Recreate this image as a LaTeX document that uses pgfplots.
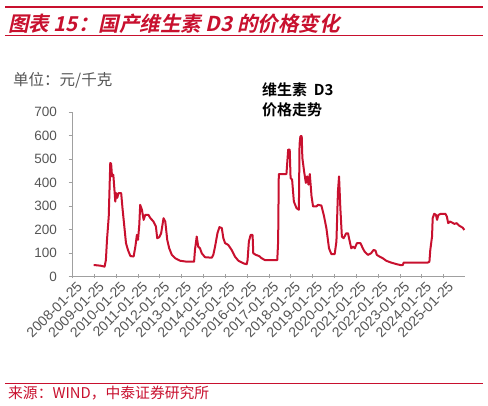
\documentclass[border=0pt]{standalone}
\usepackage{pgfplots}
\pgfplotsset{compat=1.18}
\usepackage{fontspec}
\setmainfont{Liberation Sans}
\newfontfamily\cjk{Noto Sans CJK SC}
\newfontfamily\cjkb{Noto Sans CJK SC Bold}
\newfontfamily\cjkt{Noto Sans CJK SC Bold}[FakeSlant=0.22]

\definecolor{zred}{RGB}{200,16,46}
\definecolor{tick}{RGB}{85,85,85}
\definecolor{axgray}{RGB}{160,160,160}

\begin{document}
\begin{tikzpicture}
\path[use as bounding box] (0pt,0pt) rectangle (488pt,406pt);

% header and footer
\draw[zred, line width=2.5pt] (5pt,399pt) -- (483pt,399pt);
\node[anchor=west, inner sep=0pt, text=zred] at (8pt,382.5pt)
  {\cjkt\fontsize{20.5}{21}\selectfont 图表 15：国产维生素 D3 的价格变化};
\draw[zred, line width=1pt] (5pt,370pt) -- (483pt,370pt);
\node[anchor=west, inner sep=0pt, text=tick] at (13pt,326pt)
  {\cjk\fontsize{15.5}{16}\selectfont 单位：元/千克};
\node[anchor=west, inner sep=0pt] at (262pt,316.5pt)
  {\cjkb\fontsize{15}{15}\selectfont 维生素 \ D3};
\node[anchor=west, inner sep=0pt] at (262pt,296pt)
  {\cjkb\fontsize{15}{15}\selectfont 价格走势};
\draw[zred, line width=0.8pt] (5pt,22.7pt) -- (483pt,22.7pt);
\node[anchor=west, inner sep=0pt, text=zred] at (8pt,13pt)
  {\cjk\fontsize{14.8}{15}\selectfont 来源：WIND，中泰证券研究所};

\begin{axis}[
    at={(72.5pt,129.5pt)}, anchor=south west,
    scale only axis, width=392.5pt, height=164.5pt,
    xmin=2008.07, xmax=2026.05, ymin=0, ymax=700,
    axis lines=left,
    axis line style={-, axgray, line width=0.8pt},
    tick style={axgray, line width=0.8pt},
    major tick length=4pt,
    xtick align=center, ytick align=outside,
    ytick={0,100,...,700},
    xtick={2008.07,2009.07,2010.07,2011.07,2012.07,2013.07,2014.07,2015.07,2016.07,
           2017.07,2018.07,2019.07,2020.07,2021.07,2022.07,2023.07,2024.07,2025.07},
    xticklabels={2008-01-25,2009-01-25,2010-01-25,2011-01-25,2012-01-25,2013-01-25,
                 2014-01-25,2015-01-25,2016-01-25,2017-01-25,2018-01-25,2019-01-25,
                 2020-01-25,2021-01-25,2022-01-25,2023-01-25,2024-01-25,2025-01-25},
    /pgf/number format/assume math mode=true,
    scaled x ticks=false,
    ticklabel style={text=tick},
    yticklabel style={font=\fontsize{13.5}{14}\selectfont, xshift=-8pt},
    xticklabel style={font=\fontsize{14}{14}\selectfont, rotate=45, anchor=north east,
                      inner sep=1pt, xshift=2pt, yshift=-3pt},
    clip=false,
]
\addplot[zred, line width=2pt, line join=round] coordinates {
(2009.04,49) (2009.35,46) (2009.54,42) (2009.60,70) (2009.65,156) (2009.73,255)
(2009.80,483) (2009.84,480) (2009.88,426) (2009.94,433) (2009.98,383) (2010.03,319)
(2010.07,355) (2010.12,335) (2010.18,355) (2010.30,355) (2010.36,291) (2010.46,198)
(2010.52,142) (2010.61,113) (2010.72,87) (2010.87,85) (2010.95,127) (2011.02,177)
(2011.07,156) (2011.13,220) (2011.17,305) (2011.25,284) (2011.33,241) (2011.40,262)
(2011.55,262) (2011.64,248) (2011.78,234) (2011.89,213) (2011.95,163) (2012.04,167)
(2012.13,184) (2012.24,248) (2012.32,234) (2012.41,156) (2012.50,120) (2012.62,92)
(2012.77,78) (2013.00,67) (2013.30,63) (2013.64,63) (2013.68,113) (2013.76,170)
(2013.83,127) (2013.91,120) (2013.99,99) (2014.14,82) (2014.45,80) (2014.52,92)
(2014.60,127) (2014.71,184) (2014.80,210) (2014.91,206) (2014.98,163) (2015.06,142)
(2015.21,134) (2015.36,113) (2015.51,85) (2015.67,67) (2015.90,56) (2016.05,52)
(2016.09,70) (2016.15,149) (2016.23,177) (2016.32,177) (2016.35,99) (2016.47,92)
(2016.62,87) (2016.73,78) (2016.88,70) (2017.45,70) (2017.49,149) (2017.52,436)
(2017.87,436) (2017.95,540) (2018.02,540) (2018.06,419) (2018.13,412) (2018.21,319)
(2018.33,291) (2018.44,284) (2018.47,561) (2018.51,597) (2018.57,597) (2018.60,504)
(2018.68,447) (2018.76,398) (2018.82,426) (2018.88,391) (2018.94,436) (2019.02,341)
(2019.09,298) (2019.24,298) (2019.32,305) (2019.47,302) (2019.58,262) (2019.70,206)
(2019.82,120) (2019.93,95) (2020.08,95) (2020.16,149) (2020.23,362) (2020.28,426)
(2020.34,291) (2020.41,170) (2020.49,163) (2020.61,184) (2020.69,184) (2020.77,149)
(2020.84,120) (2020.92,127) (2021.00,120) (2021.10,142) (2021.26,142) (2021.37,120)
(2021.45,106) (2021.60,92) (2021.75,99) (2021.86,113) (2021.95,110) (2022.01,92)
(2022.13,85) (2022.28,78) (2022.44,67) (2022.67,59) (2022.90,53) (2023.12,48)
(2023.20,49) (2023.24,59) (2024.34,59) (2024.42,63) (2024.46,113) (2024.54,170)
(2024.57,248) (2024.64,267) (2024.72,262) (2024.77,241) (2024.83,262) (2024.95,267)
(2025.15,267) (2025.22,255) (2025.28,227) (2025.36,234) (2025.45,230) (2025.56,224)
(2025.66,227) (2025.79,216) (2025.94,208) (2026.02,198)
};
\end{axis}
\end{tikzpicture}
\end{document}
